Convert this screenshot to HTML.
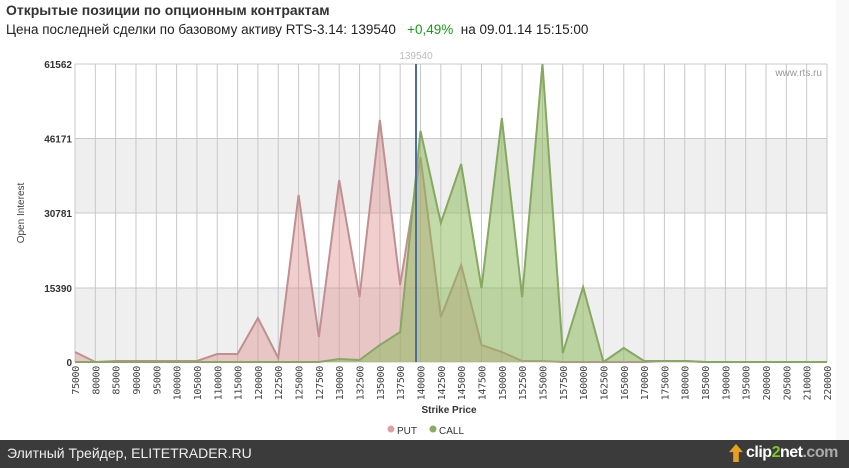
<!DOCTYPE html>
<html><head><meta charset="utf-8"><style>
body{margin:0;width:849px;height:468px;overflow:hidden;background:#fff;font-family:"Liberation Sans",sans-serif;position:relative}
.t{position:absolute;left:6px;top:2px;font-size:14px;font-weight:bold;color:#333}
.s{position:absolute;left:6px;top:22px;font-size:13.5px;color:#222}
.foot{position:absolute;left:0;top:440px;width:849px;height:28px;background:#3b3b3b;color:#eee;font-size:14px}
.side{position:absolute;left:836px;top:0;width:13px;height:440px;background:#f9f9f9}
</style></head><body>
<div class="side"></div>
<div class="t">Открытые позиции по опционным контрактам</div>
<div class="s">Цена последней сделки по базовому активу RTS-3.14: 139540 &nbsp;&nbsp;<span style="color:#1a9a1a">+0,49%</span>&nbsp; на 09.01.14 15:15:00</div>
<svg width="849" height="468" style="position:absolute;left:0;top:0" id="s"></svg>
<div class="foot"><span style="position:absolute;left:7px;top:5px">Элитный Трейдер, ELITETRADER.RU</span>
<span style="position:absolute;left:746px;top:4px;font-size:16px;font-weight:bold;color:#fff;letter-spacing:-0.5px">clip<span style="color:#7c2">2</span>net<span style="color:#aaa">.com</span></span>
<span style="position:absolute;left:729px;top:4px;width:14px;height:18px;background:#e8a020;clip-path:polygon(50% 0,100% 45%,70% 45%,70% 100%,30% 100%,30% 45%,0 45%)"></span></div>
<script>
const labels=[75000,80000,85000,90000,95000,100000,105000,110000,115000,120000,122500,125000,127500,130000,132500,135000,137500,140000,142500,145000,147500,150000,152500,155000,157500,160000,162500,165000,170000,175000,180000,185000,190000,195000,200000,205000,210000,220000];
const put=[352,362,361,361,361,361,361,354,354,318,358,195,337,180,297,120,285,157,317,265,345,352,361,361,362,362,362,362,362,361,361,362,362,362,362,362,362,362];
const call=[362,362,362,362,362,362,362,362,362,362,362,362,362,359,360,345,332,131,223,164,288,118,297,64,353,287,362,348,361,361,361,362,362,362,362,362,362,362];
const L=75,R=827,T=64,B=362,dx=(R-L)/37;
let h='';
h+=`<rect x="${L}" y="138.5" width="${R-L}" height="75" fill="#efefef"/><rect x="${L}" y="288" width="${R-L}" height="74" fill="#efefef"/>`;
for(let i=0;i<38;i++){const x=L+i*dx;h+=`<line x1="${x}" y1="${T}" x2="${x}" y2="${B}" stroke="#c8c8c8"/>`;
h+=`<text transform="translate(${x+4},${B+4}) rotate(-90)" text-anchor="end" font-size="10" fill="#444" font-family="DejaVu Sans Mono" letter-spacing="-0.3">${labels[i]}</text>`;}
[[64,'61562'],[138.5,'46171'],[213,'30781'],[288,'15390'],[362,'0']].forEach(([y,t])=>{h+=`<line x1="${L}" y1="${y}" x2="${R}" y2="${y}" stroke="#c8c8c8"/><text x="${L-3}" y="${y+4}" text-anchor="end" font-size="10" font-weight="bold" fill="#333" font-family="Liberation Sans">${t}</text>`});
function area(d,f,s){let p=d.map((y,i)=>`${L+i*dx},${y}`).join(' ');return `<polygon points="${L},${B} ${p} ${R},${B}" fill="${f}"/><polyline points="${p}" fill="none" stroke="${s}" stroke-width="2"/>`}
h+=area(put,'rgba(222,140,140,0.42)','#c09090');
h+=area(call,'rgba(140,185,90,0.52)','#86a860');
h+=`<line x1="416" y1="${T}" x2="416" y2="${B}" stroke="#4a6fa0" stroke-width="2"/>`;
h+=`<text x="416" y="59" text-anchor="middle" font-size="10" fill="#bbb" font-family="Liberation Sans">139540</text>`;
h+=`<text x="822" y="76" text-anchor="end" font-size="10" fill="#999" font-family="Liberation Sans">www.rts.ru</text>`;
h+=`<text transform="translate(24,213) rotate(-90)" text-anchor="middle" font-size="10" fill="#444" font-family="Liberation Sans">Open Interest</text>`;
h+=`<text x="449" y="413" text-anchor="middle" font-size="10" font-weight="bold" fill="#333" font-family="Liberation Sans">Strike Price</text>`;
h+=`<circle cx="391" cy="429" r="3.5" fill="#e0a0a0"/><text x="397" y="434" font-size="10" fill="#333" font-family="Liberation Sans">PUT</text>`;
h+=`<circle cx="433" cy="429" r="3.5" fill="#8aac62"/><text x="439" y="434" font-size="10" fill="#333" font-family="Liberation Sans">CALL</text>`;
document.getElementById('s').innerHTML=h;
</script>
</body></html>
